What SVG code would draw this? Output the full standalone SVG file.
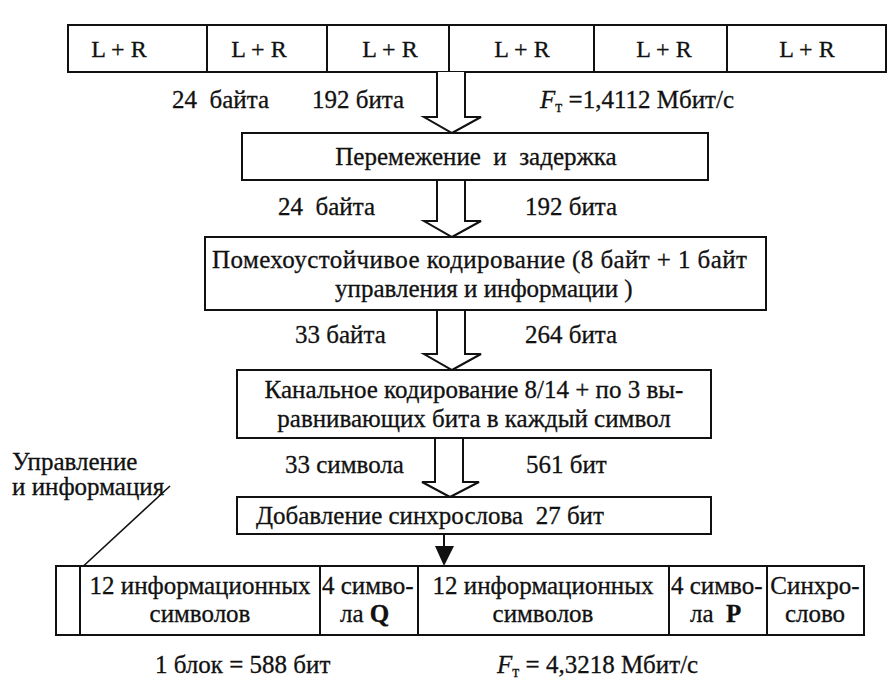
<svg xmlns="http://www.w3.org/2000/svg" width="887" height="690" viewBox="0 0 887 690" xml:space="preserve">
<style>
text{font-family:"Liberation Serif","Times New Roman",serif;font-size:25px;fill:#111;stroke:#111;stroke-width:0.3;white-space:pre}
.c{text-anchor:middle}
.box{fill:#fff;stroke:#111;stroke-width:2}
.arr{fill:#fff;stroke:#111;stroke-width:2;stroke-linejoin:miter}
.ln{stroke:#111;stroke-width:2;fill:none}
.lr{font-size:24px}
.sub{font-size:16px}
</style>
<rect width="887" height="690" fill="#fff"/>
<g id="frame-top"><rect class="box" x="68" y="25" width="818" height="47"/><line class="ln" x1="207" y1="25" x2="207" y2="72"/><line class="ln" x1="327" y1="25" x2="327" y2="72"/><line class="ln" x1="449" y1="25" x2="449" y2="72"/><line class="ln" x1="594" y1="25" x2="594" y2="72"/><line class="ln" x1="727" y1="25" x2="727" y2="72"/><text class="c lr" x="119" y="57">L + R</text><text class="c lr" x="259" y="57">L + R</text><text class="c lr" x="390" y="57">L + R</text><text class="c lr" x="522" y="57">L + R</text><text class="c lr" x="664" y="57">L + R</text><text class="c lr" x="807" y="57">L + R</text></g>
<g id="connectors"><path class="arr" d="M437,72 V117 H424 L452,133 L481,117 H465 V72"/><path class="arr" d="M437,180 V221 H424 L452,237 L481,221 H465 V180"/><path class="arr" d="M437,310 V354 H424 L452,370 L481,354 H465 V310"/><path class="arr" d="M435,438 V482 H422 L450,497 L479,482 H463 V438"/><line class="ln" x1="444" y1="534" x2="444" y2="548"/><path d="M435,546 L454,546 L444,566 Z" fill="#111"/><line x1="170" y1="486" x2="64" y2="584" stroke="#111" stroke-width="1.6"/></g>
<g id="labels-1"><text x="172" y="108">24  байта</text><text x="312" y="108">192 бита</text><text x="540" y="108"><tspan font-style="italic">F</tspan><tspan class="sub" dy="4">т</tspan><tspan dy="-4"> =1,4112 Мбит/с</tspan></text></g>
<g id="node-interleave"><rect class="box" x="242" y="133" width="466" height="47"/><text class="c" x="476" y="165">Перемежение  и  задержка</text></g>
<g id="labels-2"><text x="278" y="215">24  байта</text><text x="525" y="215">192 бита</text></g>
<g id="node-fec"><rect class="box" x="205" y="237" width="561" height="73"/><text x="212" y="268" textLength="535" lengthAdjust="spacing">Помехоустойчивое кодирование (8 байт + 1 байт</text><text x="335" y="297">управления и информации )</text></g>
<g id="labels-3"><text x="295" y="343">33 байта</text><text x="525" y="343">264 бита</text></g>
<g id="node-channel"><rect class="box" x="237" y="370" width="474" height="68"/><text class="c" x="474" y="398">Канальное кодирование 8/14 + по 3 вы-</text><text class="c" x="474" y="427">равнивающих бита в каждый символ</text></g>
<g id="labels-4"><text x="285" y="473">33 символа</text><text x="526" y="473">561 бит</text></g>
<g id="node-sync"><rect class="box" x="237" y="497" width="474" height="37"/><text x="256" y="524">Добавление синхрослова  27 бит</text></g>
<g id="label-control"><text x="12" y="470">Управление</text><text x="12" y="495">и информация</text></g>
<g id="frame-bottom"><rect class="box" x="56" y="566" width="808" height="69"/><line class="ln" x1="80" y1="566" x2="80" y2="635"/><line class="ln" x1="320" y1="566" x2="320" y2="635"/><line class="ln" x1="418" y1="566" x2="418" y2="635"/><line class="ln" x1="669" y1="566" x2="669" y2="635"/><line class="ln" x1="767" y1="566" x2="767" y2="635"/><text class="c" x="200" y="594">12 информационных</text><text class="c" x="200" y="622">символов</text><text x="322" y="594">4 симво-</text><text x="340" y="622">ла <tspan font-weight="bold">Q</tspan></text><text class="c" x="543" y="594">12 информационных</text><text class="c" x="543" y="622">символов</text><text x="671" y="594">4 симво-</text><text x="690" y="622">ла  <tspan font-weight="bold">P</tspan></text><text class="c" x="815" y="594">Синхро-</text><text class="c" x="815" y="622">слово</text></g>
<g id="labels-bottom"><text x="155" y="673">1 блок = 588 бит</text><text x="497" y="673"><tspan font-style="italic">F</tspan><tspan class="sub" dy="4">т</tspan><tspan dy="-4"> = 4,3218 Мбит/с</tspan></text></g>
</svg>
